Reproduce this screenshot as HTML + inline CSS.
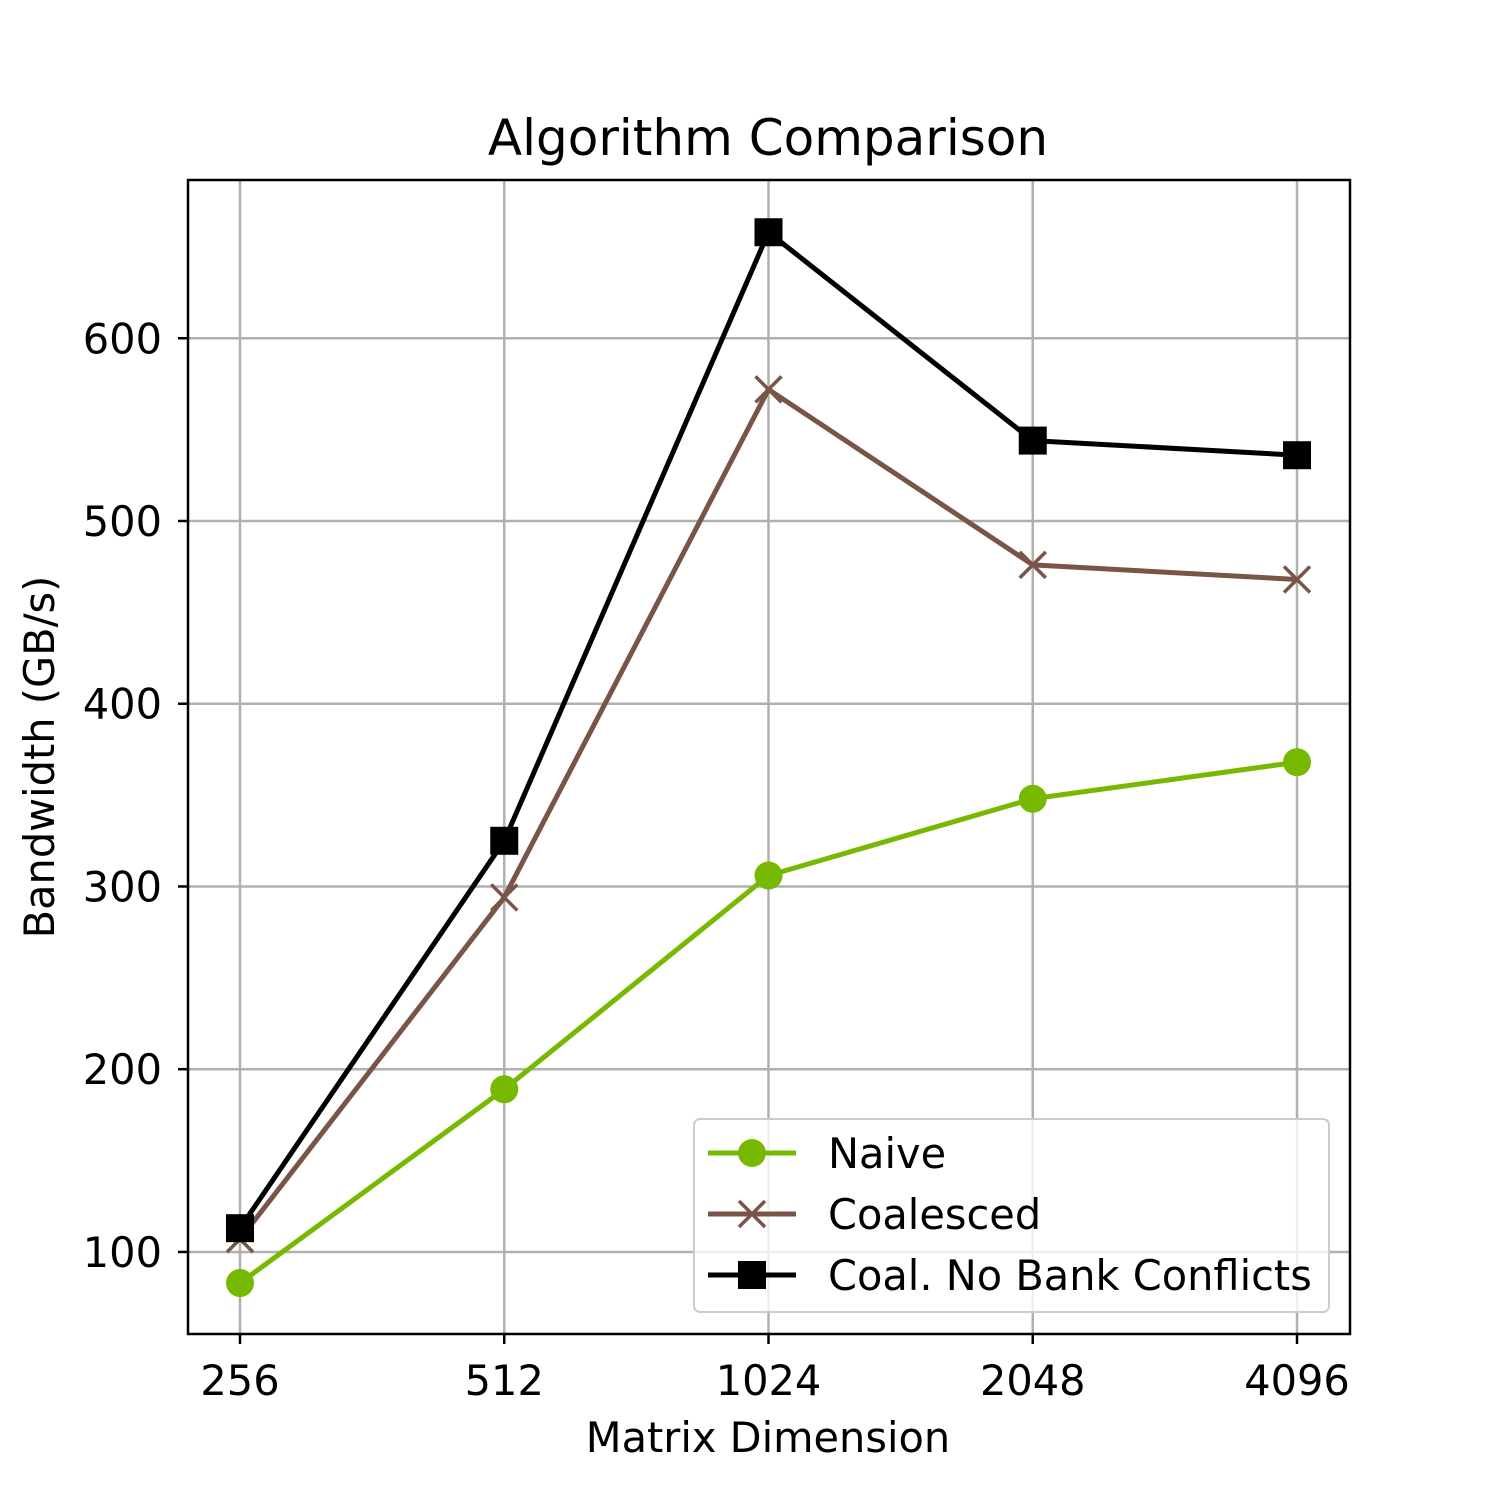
<!DOCTYPE html>
<html><head><meta charset="utf-8"><style>
html,body{margin:0;padding:0;background:#fff}
svg{display:block;font-family:"DejaVu Sans","Liberation Sans",sans-serif}
</style></head><body>
<svg id="chart" width="1500" height="1500" viewBox="0 0 1500 1500">
<rect width="1500" height="1500" fill="#fff"/>
<g id="grid"></g>
<g id="series"></g>
<rect x="188" y="180" width="1162" height="1154" fill="none" stroke="#000" stroke-width="2.5"/>
<g id="ticks"></g>
<text x="768" y="155" text-anchor="middle" font-size="50">Algorithm Comparison</text>
<text x="768" y="1452" text-anchor="middle" font-size="41.5">Matrix Dimension</text>
<text transform="translate(54,757) rotate(-90)" text-anchor="middle" font-size="41.5">Bandwidth (GB/s)</text>
<g id="legend"></g>
</svg>
<script>
const categories = ["256","512","1024","2048","4096"];
const naive = [83,189,306,348,368];
const coalesced = [107,294,572,476,468];
const noBank = [113,325,658,544,536];
const yTicks = [100,200,300,400,500,600];
const seriesNames = ["Naive","Coalesced","Coal. No Bank Conflicts"];

const NS="http://www.w3.org/2000/svg";
const L=188,R=1350,T=180,B=1334;
const yMin=55.1,yMax=686.6;
function x(i){return 240+i*(1297-240)/(categories.length-1);}
function y(v){return B-(v-yMin)/(yMax-yMin)*(B-T);}
function mk(tag,attrs,parent){const e=document.createElementNS(NS,tag);for(const k in attrs)e.setAttribute(k,attrs[k]);parent.appendChild(e);return e;}
const grid=document.getElementById('grid'),ticks=document.getElementById('ticks'),ser=document.getElementById('series'),leg=document.getElementById('legend');
categories.forEach((c,i)=>{
  const g=mk('line',{x1:x(i),x2:x(i),y1:T,y2:B,stroke:'#b0b0b0','stroke-width':2.5},grid);
  
  
  mk('line',{x1:x(i),x2:x(i),y1:B,y2:B+10,stroke:'#000','stroke-width':2.5},ticks);
  const t=mk('text',{x:x(i),y:B+61,'text-anchor':'middle','font-size':41.5},ticks);
  t.textContent=c;
  
  
});
yTicks.forEach(v=>{
  const g=mk('line',{x1:L,x2:R,y1:y(v),y2:y(v),stroke:'#b0b0b0','stroke-width':2.5},grid);
  
  
  mk('line',{x1:L-10,x2:L,y1:y(v),y2:y(v),stroke:'#000','stroke-width':2.5},ticks);
  const t=mk('text',{x:L-26,y:y(v)+15,'text-anchor':'end','font-size':41.5},ticks);
  t.textContent=v;
  
  
});
function marker(type,cx,cy,color,parent){
  if(type==='o')return mk('circle',{cx:cx,cy:cy,r:14,fill:color},parent);
  if(type==='s')return mk('rect',{x:cx-14,y:cy-14,width:28,height:28,fill:color},parent);
  return mk('path',{d:`M${cx-13},${cy-13}L${cx+13},${cy+13}M${cx-13},${cy+13}L${cx+13},${cy-13}`,stroke:color,'stroke-width':3.5,fill:'none'},parent);
}
const defs=[[naive,'#76b900','o','naive'],[coalesced,'#795548','x','coalesced'],[noBank,'#000000','s','no-bank-conflicts']];
defs.forEach(([d,col,m,n])=>{
  const p=mk('polyline',{points:d.map((v,i)=>x(i)+','+y(v)).join(' '),fill:'none',stroke:col,'stroke-width':5,'stroke-linejoin':'round'},ser);
  
  
  d.forEach((v,i)=>{const e=marker(m,x(i),y(v),col,ser);
    
    });
});
const lb=mk('rect',{x:694,y:1119,width:635,height:193,rx:6,fill:'#fff','fill-opacity':0.8,stroke:'#ccc','stroke-width':2},leg);


defs.forEach(([d,col,m,n],k)=>{
  const cy=1153+k*61;
  mk('line',{x1:708,x2:796,y1:cy,y2:cy,stroke:col,'stroke-width':5},leg);
  marker(m,752,cy,col,leg);
  const t=mk('text',{x:828,y:cy+15,'font-size':41.5},leg);
  t.textContent=seriesNames[k];
  
  
});
</script>
</body></html>
